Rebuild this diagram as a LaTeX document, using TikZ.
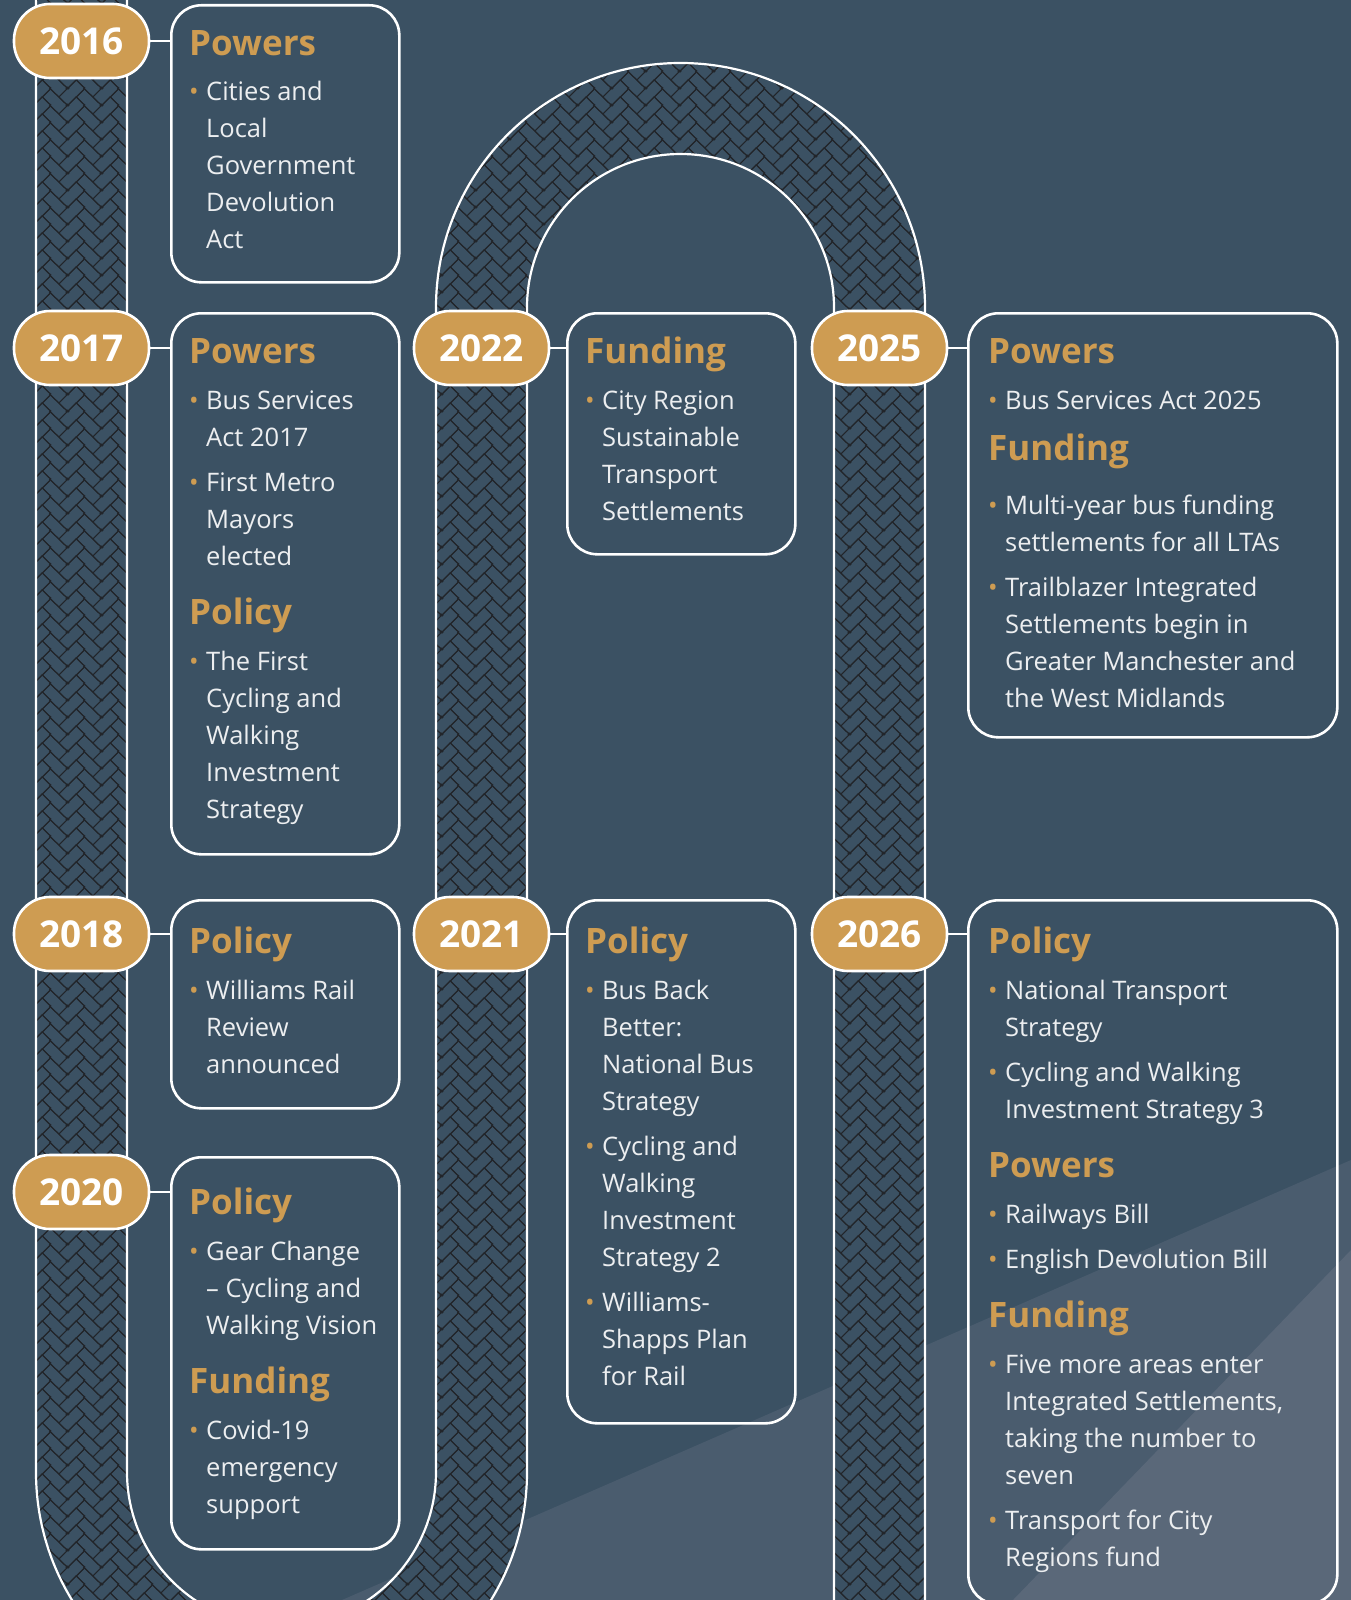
\documentclass[tikz,border=0pt]{standalone}
\usepackage{fontspec}
\setmainfont{Open Sans}
\usetikzlibrary{positioning, patterns}

\definecolor{slate}{RGB}{59,81,99}
\definecolor{slatemid}{RGB}{74,92,110}
\definecolor{slatelight}{RGB}{90,104,121}
\definecolor{gold}{RGB}{206,156,82}
\definecolor{brick}{RGB}{34,37,42}
\definecolor{paper}{RGB}{236,238,240}

% herringbone bricks for the road
\newcommand\hb{8.5pt}
\pgfdeclarepatternformonly{herringbone}{\pgfpointorigin}{\pgfpoint{4*\hb}{2*\hb}}{\pgfpoint{4*\hb}{2*\hb}}{%
  \pgfsetlinewidth{1.1pt}%
  \foreach \i in {-1,0,1,2}{%
    \foreach \j in {-2,...,2}{%
      \pgfmathsetmacro\ox{4*\i}\pgfmathsetmacro\oy{2*\j}%
      \pgfpathmoveto{\pgfpoint{\ox*\hb}{\oy*\hb}}%
      \pgfpathlineto{\pgfpoint{(\ox+2)*\hb}{(\oy+2)*\hb}}%
      \pgfpathlineto{\pgfpoint{(\ox+1)*\hb}{(\oy+3)*\hb}}%
      \pgfpathlineto{\pgfpoint{(\ox-1)*\hb}{(\oy+1)*\hb}}%
      \pgfpathclose
      \pgfpathmoveto{\pgfpoint{\ox*\hb}{(\oy+2)*\hb}}%
      \pgfpathlineto{\pgfpoint{(\ox-2)*\hb}{(\oy+4)*\hb}}%
      \pgfpathlineto{\pgfpoint{(\ox-3)*\hb}{(\oy+3)*\hb}}%
      \pgfpathlineto{\pgfpoint{(\ox-1)*\hb}{(\oy+1)*\hb}}%
      \pgfusepath{stroke}%
    }%
  }%
}

% card text helpers
\newcommand\hd[1]{\rule{0pt}{28pt}{\color{gold}\fontsize{35}{37}\selectfont\bfseries #1}}
\newcommand\bl{\makebox[17pt][l]{\color{gold}\textbullet}}
\newcommand\ii{\hspace*{17pt}}

\begin{document}
\begin{tikzpicture}[x=1pt, y=-1pt]
      % Canvas
      \useasboundingbox (0,0) rectangle (1351,1600);
      \clip (0,0) rectangle (1351,1600);
      \fill[slate] (0,0) rectangle (1351,1600);
      \fill[slatemid] (342,1600) -- (1351,1160) -- (1351,1600) -- cycle;
      \fill[slatelight] (1013,1600) -- (1351,1250) -- (1351,1600) -- cycle;

      % Define the style for the road
      \tikzstyle{road}=[draw=white, line width=2.2pt, preaction={fill=slate}, pattern=herringbone, pattern color=brick]

      % Road
      \path[road] (36,-20) -- (36,1472) arc[start angle=180, end angle=0, radius=245.5]
        -- (527,307.5) arc[start angle=180, end angle=360, radius=153.5]
        -- (834,1620) -- (925,1620) -- (925,307.5)
        arc[start angle=0, end angle=-180, radius=244.5]
        -- (436,1472) arc[start angle=0, end angle=180, radius=154.5]
        -- (127,-20) -- cycle;

      % Define the style for the cards
      \tikzstyle{card}=[draw=white, line width=2.6pt, rounded corners=30pt, inner sep=0pt, anchor=north west]
      \tikzstyle{cardtext}=[anchor=north west, inner sep=0pt, align=left, text=paper, font=\fontsize{25.5}{37}\selectfont]

      % Cards
      \node[card, minimum width=228pt, minimum height=277pt] (b2016) at (170,4) {};
      \node[card, minimum width=228pt, minimum height=541pt] (b2017) at (170,312) {};
      \node[card, minimum width=228pt, minimum height=208pt] (b2018) at (170,899) {};
      \node[card, minimum width=228pt, minimum height=392pt] (b2020) at (170,1156) {};
      \node[card, minimum width=228pt, minimum height=241pt] (b2022) at (566,312) {};
      \node[card, minimum width=228pt, minimum height=523pt] (b2021) at (566,899) {};
      \node[card, minimum width=369pt, minimum height=424pt] (b2025) at (967,312) {};
      \node[card, minimum width=369pt, minimum height=704pt] (b2026) at (967,899) {};

      % Card texts
      \node[cardtext] (t2016) at ([xshift=19pt, yshift=-23pt]b2016.north west) {%
        \hd{Powers}\\[8pt]
        \bl Cities and\\ \ii Local\\ \ii Government\\ \ii Devolution\\ \ii Act};
      \node[cardtext] (t2017) at ([xshift=19pt, yshift=-23pt]b2017.north west) {%
        \hd{Powers}\\[9pt]
        \bl Bus Services\\ \ii Act 2017\\[8pt]
        \bl First Metro\\ \ii Mayors\\ \ii elected\\[22pt]
        \hd{Policy}\\[9pt]
        \bl The First\\ \ii Cycling and\\ \ii Walking\\ \ii Investment\\ \ii Strategy};
      \node[cardtext] (t2018) at ([xshift=19pt, yshift=-26pt]b2018.north west) {%
        \hd{Policy}\\[9pt]
        \bl Williams Rail\\ \ii Review\\ \ii announced};
      \node[cardtext] (t2020) at ([xshift=19pt, yshift=-30pt]b2020.north west) {%
        \hd{Policy}\\[9pt]
        \bl Gear Change\\ \ii -- Cycling and\\ \ii Walking Vision\\[22pt]
        \hd{Funding}\\[9pt]
        \bl Covid-19\\ \ii emergency\\ \ii support};
      \node[cardtext] (t2022) at ([xshift=19pt, yshift=-23pt]b2022.north west) {%
        \hd{Funding}\\[9pt]
        \bl City Region\\ \ii Sustainable\\ \ii Transport\\ \ii Settlements};
      \node[cardtext] (t2021) at ([xshift=19pt, yshift=-26pt]b2021.north west) {%
        \hd{Policy}\\[9pt]
        \bl Bus Back\\ \ii Better:\\ \ii National Bus\\ \ii Strategy\\[8pt]
        \bl Cycling and\\ \ii Walking\\ \ii Investment\\ \ii Strategy 2\\[8pt]
        \bl Williams-\\ \ii Shapps Plan\\ \ii for Rail};
      \node[cardtext] (t2025) at ([xshift=21pt, yshift=-23pt]b2025.north west) {%
        \hd{Powers}\\[9pt]
        \bl Bus Services Act 2025\\[14pt]
        \hd{Funding}\\[17pt]
        \bl Multi-year bus funding\\ \ii settlements for all LTAs\\[8pt]
        \bl Trailblazer Integrated\\ \ii Settlements begin in\\ \ii Greater Manchester and\\ \ii the West Midlands};
      \node[cardtext] (t2026) at ([xshift=21pt, yshift=-26pt]b2026.north west) {%
        \hd{Policy}\\[9pt]
        \bl National Transport\\ \ii Strategy\\[8pt]
        \bl Cycling and Walking\\ \ii Investment Strategy 3\\[22pt]
        \hd{Powers}\\[9pt]
        \bl Railways Bill\\[8pt]
        \bl English Devolution Bill\\[22pt]
        \hd{Funding}\\[9pt]
        \bl Five more areas enter\\ \ii Integrated Settlements,\\ \ii taking the number to\\ \ii seven\\[8pt]
        \bl Transport for City\\ \ii Regions fund};

      % Define the style for the year badges
      \tikzstyle{badge}=[draw=white, line width=2.6pt, fill=gold, rounded corners=36pt, minimum width=135pt, minimum height=74pt, inner sep=0pt, text=white, font=\fontsize{37}{40}\selectfont\bfseries]
      \tikzstyle{link}=[draw=white, line width=2.6pt]

      % Year badges
      \node[badge] (y2016) at (81.5,41) {2016};
      \node[badge] (y2017) at (81.5,348) {2017};
      \node[badge] (y2018) at (81.5,934) {2018};
      \node[badge] (y2020) at (81.5,1192) {2020};
      \node[badge] (y2022) at (481.5,348) {2022};
      \node[badge] (y2021) at (481.5,934) {2021};
      \node[badge] (y2025) at (879.5,348) {2025};
      \node[badge] (y2026) at (879.5,934) {2026};

      % Links
      \foreach \yr in {2016,2017,2018,2020,2022,2021,2025,2026}
        \draw[link] (y\yr.east) -- (y\yr.east -| b\yr.west);

    \end{tikzpicture}
\end{document}
